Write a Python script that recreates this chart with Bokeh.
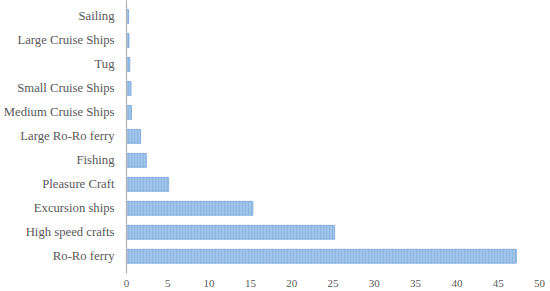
from bokeh.plotting import figure
from bokeh.models import Range1d, FixedTicker
from bokeh.embed import file_html
from bokeh.resources import INLINE

categories = ["Ro-Ro ferry", "High speed crafts", "Excursion ships", "Pleasure Craft",
              "Fishing", "Large Ro-Ro ferry", "Medium Cruise Ships", "Small Cruise Ships",
              "Tug", "Large Cruise Ships", "Sailing"]
values = [47.2, 25.2, 15.3, 5.1, 2.4, 1.7, 0.6, 0.55, 0.4, 0.3, 0.25]
x_ticks = [0, 5, 10, 15, 20, 25, 30, 35, 40, 45, 50]

ys = list(range(len(categories)))

p = figure(width=546, height=289, output_backend="svg", toolbar_location=None,
           x_range=Range1d(0, 50), y_range=Range1d(-0.72, len(categories) - 1 + 0.667),
           min_border_left=0, min_border_right=7, min_border_top=0, min_border_bottom=0)
p.outline_line_color = None
p.grid.visible = False

p.hbar(y=ys, right=values, left=0, height=0.58,
       fill_color="#a0c4ea", line_color="#78a6db", line_width=0.8,
       hatch_pattern="vertical_line", hatch_color="#86b0e0", hatch_scale=3, hatch_weight=0.7)

font = "Liberation Serif"
p.yaxis.ticker = FixedTicker(ticks=ys)
p.yaxis.major_label_overrides = {i: c for i, c in enumerate(categories)}
p.yaxis.axis_line_color = "#b0b0b0"
p.yaxis.axis_line_width = 1.2
p.yaxis.major_tick_line_color = None
p.yaxis.major_tick_out = 0
p.yaxis.major_tick_in = 0
p.yaxis.minor_tick_line_color = None
p.yaxis.major_label_standoff = 12
p.yaxis.major_label_text_font = font
p.yaxis.major_label_text_font_size = "12.7px"
p.yaxis.major_label_text_color = "#595959"

p.xaxis.ticker = FixedTicker(ticks=x_ticks)
p.xaxis.axis_line_color = None
p.xaxis.major_tick_line_color = None
p.xaxis.major_tick_out = 0
p.xaxis.major_tick_in = 0
p.xaxis.minor_tick_line_color = None
p.xaxis.major_label_standoff = 6
p.xaxis.major_label_text_font = font
p.xaxis.major_label_text_font_size = "11px"
p.xaxis.major_label_text_color = "#595959"

open("out.html", "w").write(file_html(p, INLINE))
